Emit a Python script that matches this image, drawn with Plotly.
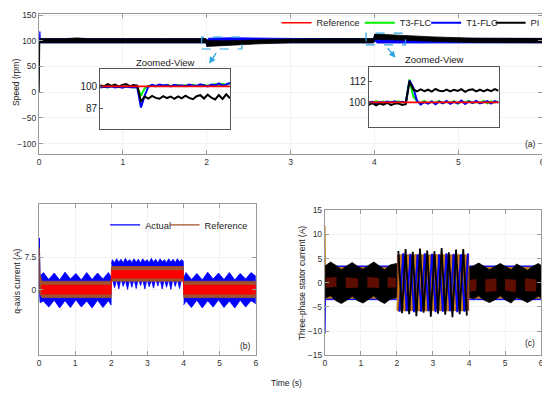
import numpy as np
import plotly.graph_objects as go

W, H = 550, 395
OFFX, OFFY = 8, 8  # page body margin of the html page
FONT = "Liberation Sans, Arial, Helvetica, sans-serif"

# ================= (a) rotor speed =================
TIME_TICKS = [0, 1, 2, 3, 4, 5, 6]
SPEED_TICKS = [-100, -50, 0, 50, 100, 150]

REF_T = [0, 6]
REF_SPEED = [100, 100]

# envelopes of the dense speed traces in the main view
T3_BAND_T = [0.004, 0.03, 1.99, 2.005, 2.02, 3.99, 4.005, 4.02, 6.0]
T3_BAND_UP = [100, 103.5, 103.5, 100, 104, 104, 113, 104, 104]
T3_BAND_LO = [96.5, 96.5, 96.5, 94, 96.5, 96.5, 101, 96.5, 96.5]

T1_BAND_T = [0.004, 0.01, 0.016, 0.03, 1.99, 2.005, 2.02, 2.3, 2.6, 3.0, 3.99, 4.005, 4.03, 4.3, 4.7, 6.0]
T1_BAND_UP = [100, 118, 104, 104, 104, 100, 105, 106, 105, 104.5, 104, 113, 105, 105, 104.5, 104.5]
T1_BAND_LO = [96, 97, 96, 96, 96, 88, 94, 95.5, 96, 96, 96, 100, 95.5, 95.5, 96, 96]

PI_BAND_T = [0.0, 0.004, 0.01, 0.3, 0.45, 0.6, 1.0, 1.5, 1.99, 2.005, 2.3, 2.6, 3.0, 3.5, 3.99, 4.005, 4.3, 4.7, 5.2, 6.0]
PI_BAND_UP = [0, 104, 104, 104, 105.5, 104, 104.5, 104, 104, 100, 100, 102, 103.5, 104, 104, 113, 110.5, 107.5, 105, 104.5]
PI_BAND_LO = [0, 96, 96, 96.5, 97, 96, 96.5, 96, 96, 89, 91, 94, 96, 96, 96, 103, 102, 99, 96.5, 96]

# zoomed views (sampled every 10 ms)
INSET1_T = np.round(np.linspace(1.90, 2.25, 36), 3)
INSET1_T3 = [99.6, 100.0, 99.4, 99.9, 99.7, 99.5, 100.0, 99.6, 99.8, 99.4, 99.6, 94.5, 98.8, 100.3,
             100.6, 100.0, 100.8, 100.3, 100.9, 100.2, 100.6, 100.8, 100.1, 100.7, 100.4, 100.9,
             100.2, 100.8, 101.0, 100.3, 100.9, 101.2, 100.5, 101.5, 100.8, 101.9]
INSET1_T1 = [99.3, 99.8, 99.5, 100.1, 99.4, 99.7, 99.2, 99.9, 99.5, 99.6, 99.4, 87.5, 94.5, 99.8,
             100.9, 100.2, 101.1, 100.5, 100.8, 100.0, 100.9, 100.4, 100.7, 100.1, 101.0, 100.5,
             100.3, 101.2, 100.6, 100.0, 101.0, 100.6, 101.8, 100.4, 101.1, 102.0]
INSET1_PI = [100.7, 99.9, 101.3, 100.2, 101.0, 99.8, 100.9, 101.4, 100.1, 100.8, 100.4, 91.0,
             94.0, 92.8, 94.4, 93.2, 92.7, 94.2, 93.1, 94.0, 92.6, 94.1, 92.9, 94.5, 93.2, 92.4,
             94.2, 94.8, 92.8, 95.1, 93.3, 92.3, 94.9, 92.6, 95.3, 93.0]
INSET1_TICKS = [87, 100]

INSET2_T = np.round(np.linspace(3.90, 4.25, 36), 3)
INSET2_T3 = [100.3, 99.8, 100.6, 100.0, 100.5, 99.7, 100.4, 100.1, 100.6, 99.9, 100.2, 113.0, 103.5,
             100.8, 99.6, 100.8, 99.4, 100.5, 99.7, 100.9, 99.5, 100.3, 99.8, 100.7, 99.3, 100.6,
             100.0, 100.9, 99.6, 100.4, 99.7, 100.8, 99.5, 100.6, 99.9, 100.5]
INSET2_T1 = [99.9, 100.4, 99.6, 100.2, 99.8, 100.5, 100.0, 100.6, 99.7, 100.3, 100.0, 112.5, 108.5,
             101.0, 98.8, 100.2, 99.3, 100.6, 99.0, 100.4, 99.6, 100.8, 99.2, 100.3, 99.5, 101.0,
             99.1, 100.5, 99.7, 100.9, 99.4, 100.2, 100.8, 99.3, 100.7, 99.9]
INSET2_PI = [98.6, 99.6, 98.3, 99.4, 98.7, 99.8, 98.4, 99.3, 99.5, 98.5, 99.0, 112.0, 107.5,
             106.3, 107.4, 106.4, 107.2, 106.1, 107.6, 106.6, 106.3, 107.3, 106.2, 107.2, 106.5,
             107.5, 106.0, 107.1, 107.4, 106.3, 107.2, 106.2, 107.3, 106.4, 107.5, 106.6]
INSET2_TICKS = [100, 112]

# ================= (b) q-axis current =================
Q_TICKS = [0, 7.5]
Q_TICKTEXT = ["0", "7.5"]

QA_T = [0.0, 0.006, 0.03, 0.12, 0.27, 0.42, 0.57, 0.72, 0.87, 1.02, 1.17, 1.32, 1.47, 1.62, 1.77, 1.92, 1.995]
QA_UP = [0.0, 12.0, 3.2, 4.0, 2.4, 3.9, 2.3, 4.1, 2.5, 3.8, 2.3, 4.0, 2.4, 3.9, 2.5, 4.0, 3.0]
QA_LO = [0.0, 0.5, -3.0, -2.6, -4.0, -2.4, -4.2, -2.5, -4.1, -2.3, -4.0, -2.6, -4.2, -2.4, -4.1, -2.5, -3.5]

QB_T = [2.005] + list(np.round(2.03 + 0.06 * np.arange(33), 3)) + [3.995]
QB_UP = [6.0, 7.0, 6.3, 7.2, 6.4, 7.1, 6.2, 7.3, 6.5, 7.0, 6.3, 7.2, 6.4, 7.1, 6.2, 7.2, 6.5, 7.0,
         6.3, 7.3, 6.4, 7.1, 6.2, 7.2, 6.5, 7.0, 6.3, 7.2, 6.4, 7.1, 6.3, 7.2, 6.5, 7.0, 6.6]
QB_LO = [2.0, 2.6, 0.5, 2.4, 0.2, 2.7, 0.8, 2.3, 0.1, 2.6, 0.6, 2.5, 0.3, 2.7, 1.0, 2.4, 0.2, 2.6,
         0.7, 2.3, 0.4, 2.7, 0.9, 2.5, 0.2, 2.6, 0.6, 2.4, 0.1, 2.7, 0.8, 2.5, 0.3, 2.6, 2.2]

QC_T = [4.005, 4.07, 4.22, 4.37, 4.52, 4.67, 4.82, 4.97, 5.12, 5.27, 5.42, 5.57, 5.72, 5.87, 6.0]
QC_UP = [2.8, 4.0, 2.4, 3.8, 2.3, 4.1, 2.5, 3.9, 2.4, 4.0, 2.3, 3.8, 2.5, 4.0, 3.2]
QC_LO = [-3.5, -2.6, -4.1, -2.4, -4.2, -2.5, -4.0, -2.3, -4.1, -2.6, -4.2, -2.4, -4.0, -2.5, -3.2]

Q_BRN_T = [0.0, 0.004, 0.03, 0.08, 1.995, 2.005, 3.995, 4.005, 6.0]
Q_BRN_UP = [0.0, 9.8, 3.5, 2.0, 2.0, 5.4, 5.4, 2.0, 2.0]
Q_BRN_LO = [0.0, 0.0, -1.0, -1.8, -1.8, 2.0, 2.0, -1.8, -1.8]

Q_RED_T = [0.06, 1.995, 2.005, 3.995, 4.005, 6.0]
Q_RED_UP = [1.1, 1.1, 4.5, 4.5, 1.1, 1.1]
Q_RED_LO = [-1.0, -1.0, 2.7, 2.7, -1.0, -1.0]

# ================= (c) three-phase stator current =================
I_TICKS = [-15, -10, -5, 0, 5, 10, 15]

IA_BLUE_T = [0.0, 0.004, 0.02, 1.995]
IA_BLUE_UP = [0.0, 0.0, 3.5, 3.5]
IA_BLUE_LO = [0.0, -10.5, -3.5, -3.5]
IC_BLUE_T = [4.005, 6.0]
IC_BLUE_UP = [3.5, 3.5]
IC_BLUE_LO = [-3.5, -3.5]

IA_ORG_T = [0.0, 0.004, 0.02, 1.995]
IA_ORG_UP = [0.0, 11.8, 3.2, 3.2]
IA_ORG_LO = [0.0, 0.0, -3.2, -3.2]
IC_ORG_T = [4.005, 6.0]
IC_ORG_UP = [3.2, 3.2]
IC_ORG_LO = [-3.2, -3.2]

IA_BLK_T = [0.01, 0.16, 0.31, 0.46, 0.61, 0.76, 0.91, 1.06, 1.21, 1.36, 1.51, 1.66, 1.81, 1.99]
IA_BLK_UP = [3.5, 4.3, 3.6, 2.7, 3.5, 4.2, 3.4, 2.8, 3.6, 4.3, 3.5, 2.7, 3.7, 4.0]
IA_BLK_LO = [-3.2, -2.7, -3.7, -4.3, -3.6, -2.8, -3.7, -4.2, -3.5, -2.7, -3.7, -4.3, -3.4, -3.0]

IC_BLK_T = [4.01, 4.12, 4.27, 4.42, 4.57, 4.72, 4.87, 5.02, 5.17, 5.32, 5.47, 5.62, 5.77, 5.92, 6.0]
IC_BLK_UP = [3.2, 3.5, 4.1, 3.4, 2.7, 3.4, 4.0, 3.3, 2.7, 3.9, 3.3, 2.6, 3.4, 4.0, 3.6]
IC_BLK_LO = [-3.0, -3.3, -2.7, -3.6, -4.1, -3.5, -2.7, -3.6, -4.2, -3.0, -3.5, -4.1, -3.5, -2.8, -3.1]

# dark-red patches in the middle of the steady-state band
ID_RED_T = [0.04, 0.32, None, 0.58, 0.92, None, 1.18, 1.5, None, 1.74, 1.97, None,
            4.03, 4.2, None, 4.45, 4.76, None, 5.0, 5.3, None, 5.55, 5.86]
ID_RED_UP = [1.0, 1.2, None, 1.1, 0.9, None, 1.2, 1.0, None, 1.1, 1.0, None,
             0.6, 0.8, None, 0.7, 0.9, None, 0.8, 0.6, None, 0.9, 0.7]
ID_RED_LO = [-1.0, -0.8, None, -1.1, -1.0, None, -0.9, -1.1, None, -1.0, -0.9, None,
             -1.8, -1.6, None, -1.9, -1.7, None, -1.6, -1.9, None, -1.7, -1.8]

IB_BG_T = [2.005, 3.995]
IB_BG_UP = [5.8, 5.8]
IB_BG_LO = [-5.8, -5.8]

# peaks / troughs of the three phases during the 2-4 s load interval
IB_BLK_T = np.round(2.04 + 0.1 * np.arange(20), 3)
IB_BLK = [6.6, -6.3, 7.0, -6.5, 6.4, -6.9, 7.1, -6.2, 6.7, -7.0, 6.5, -6.4, 7.2, -6.6, 6.3, -7.1, 6.9, -6.5, 7.0, -6.8]
IB_ORG_T = np.round(2.007 + 0.1 * np.arange(20), 3)
IB_ORG = [-5.7, 5.8, -5.9, 5.7, -5.8, 5.9, -5.7, 5.8, -5.9, 5.7, -5.8, 5.9, -5.7, 5.8, -5.9, 5.7, -5.8, 5.9, -5.7, 5.8]
IB_BLUE_T = np.round(2.073 + 0.1 * np.arange(20), 3)
IB_BLUE = [-6.0, 6.1, -5.9, 6.0, -6.1, 5.9, -6.0, 6.1, -5.9, 6.0, -6.1, 5.9, -6.0, 6.1, -5.9, 6.0, -6.1, 5.9, -6.0, 6.1]

# ================= colours =================
RED = "#ff0000"
GREEN = "#00ee00"
BLUE = "#0000ff"
BLACK = "#000000"
BROWN = "#a0522d"
ORANGE = "#c8801e"
DARKRED = "#5e0e00"
CYAN = "#2aa7e0"


def band(ts, ups, los):
    """Closed polygon(s) for fill='toself'; None splits segments."""
    xs, ys = [], []
    segs_t, segs_u, segs_l = [[]], [[]], [[]]
    for t, u, l in zip(ts, ups, los):
        if t is None:
            segs_t.append([]); segs_u.append([]); segs_l.append([])
        else:
            segs_t[-1].append(t); segs_u[-1].append(u); segs_l[-1].append(l)
    for st, su, sl in zip(segs_t, segs_u, segs_l):
        if xs:
            xs.append(None); ys.append(None)
        xs += list(st) + list(st)[::-1]
        ys += list(su) + list(sl)[::-1]
    return xs, ys


fig = go.Figure()


def add_band(ts, ups, los, color, xa, ya, lw=0.8):
    x, y = band(ts, ups, los)
    fig.add_trace(go.Scatter(x=x, y=y, mode="lines", fill="toself", fillcolor=color,
                             line=dict(color=color, width=lw), xaxis=xa, yaxis=ya,
                             showlegend=False, hoverinfo="skip"))


# ---- (a) main view ----
fig.add_trace(go.Scatter(x=REF_T, y=REF_SPEED, mode="lines", line=dict(color=RED, width=1.5),
                         xaxis="x", yaxis="y", showlegend=False))
add_band(T3_BAND_T, T3_BAND_UP, T3_BAND_LO, GREEN, "x", "y")
add_band(T1_BAND_T, T1_BAND_UP, T1_BAND_LO, BLUE, "x", "y")
add_band(PI_BAND_T, PI_BAND_UP, PI_BAND_LO, BLACK, "x", "y")

# ---- (a) zoomed views ----
for xa, ya, tt, t3, t1, pi, show in [("x4", "y4", INSET1_T, INSET1_T3, INSET1_T1, INSET1_PI, True),
                                     ("x5", "y5", INSET2_T, INSET2_T3, INSET2_T1, INSET2_PI, False)]:
    fig.add_trace(go.Scatter(x=tt, y=t3, mode="lines", name="T3-FLC", legend="legend3",
                             line=dict(color=GREEN, width=2), xaxis=xa, yaxis=ya, showlegend=show))
    fig.add_trace(go.Scatter(x=tt, y=t1, mode="lines", name="T1-FLC", legend="legend4",
                             line=dict(color=BLUE, width=2), xaxis=xa, yaxis=ya, showlegend=show))
    fig.add_trace(go.Scatter(x=tt, y=pi, mode="lines", name="PI", legend="legend5",
                             line=dict(color=BLACK, width=2), xaxis=xa, yaxis=ya, showlegend=show))
    fig.add_trace(go.Scatter(x=REF_T, y=REF_SPEED, mode="lines", name="Reference", legend="legend",
                             line=dict(color=RED, width=1.6), xaxis=xa, yaxis=ya, showlegend=show))

# ---- (b) q-axis current ----
add_band(QA_T + [None] + QB_T + [None] + QC_T,
         QA_UP + [None] + QB_UP + [None] + QC_UP,
         QA_LO + [None] + QB_LO + [None] + QC_LO, BLUE, "x2", "y2")
add_band(Q_BRN_T, Q_BRN_UP, Q_BRN_LO, BROWN, "x2", "y2")
add_band(Q_RED_T, Q_RED_UP, Q_RED_LO, RED, "x2", "y2", lw=0.5)
fig.add_trace(go.Scatter(x=QA_T[:2], y=QA_UP[:2], mode="lines", name="Actual",
                         line=dict(color=BLUE, width=1.2), xaxis="x2", yaxis="y2", legend="legend2"))
fig.add_trace(go.Scatter(x=Q_BRN_T[:2], y=Q_BRN_UP[:2], mode="lines", name="Reference",
                         line=dict(color=BROWN, width=1.2), xaxis="x2", yaxis="y2", legend="legend6"))

# ---- (c) three-phase currents ----
add_band(IA_BLUE_T + [None] + IC_BLUE_T, IA_BLUE_UP + [None] + IC_BLUE_UP,
         IA_BLUE_LO + [None] + IC_BLUE_LO, BLUE, "x3", "y3")
add_band(IA_ORG_T + [None] + IC_ORG_T, IA_ORG_UP + [None] + IC_ORG_UP,
         IA_ORG_LO + [None] + IC_ORG_LO, ORANGE, "x3", "y3")
add_band(IA_BLK_T + [None] + IC_BLK_T, IA_BLK_UP + [None] + IC_BLK_UP,
         IA_BLK_LO + [None] + IC_BLK_LO, BLACK, "x3", "y3")
add_band(ID_RED_T, ID_RED_UP, ID_RED_LO, DARKRED, "x3", "y3", lw=0.3)
add_band(IB_BG_T, IB_BG_UP, IB_BG_LO, "#7a2e12", "x3", "y3", lw=0.3)
fig.add_trace(go.Scatter(x=IB_ORG_T, y=IB_ORG, mode="lines", line=dict(color=ORANGE, width=1.8),
                         xaxis="x3", yaxis="y3", showlegend=False))
fig.add_trace(go.Scatter(x=IB_BLUE_T, y=IB_BLUE, mode="lines", line=dict(color=BLUE, width=1.8),
                         xaxis="x3", yaxis="y3", showlegend=False))
fig.add_trace(go.Scatter(x=IB_BLK_T, y=IB_BLK, mode="lines", line=dict(color=BLACK, width=1.8),
                         xaxis="x3", yaxis="y3", showlegend=False))


def dx(p):
    return (p - OFFX) / W


def dy(p):
    return min(1.0, max(0.0, 1 - (p - OFFY) / H))


AX = dict(showline=True, linecolor="#9a9a9a", linewidth=1, mirror="allticks", ticks="inside",
          ticklen=4, tickcolor="#9a9a9a", showgrid=True, gridcolor="#f2f2f2", zeroline=False,
          tickfont=dict(family=FONT, size=8.5, color="#333"))
INS = dict(showline=True, linecolor="#555", linewidth=1, mirror=True, ticks="inside",
           ticklen=3, tickcolor="#555", showgrid=False, zeroline=False,
           tickfont=dict(family=FONT, size=10, color="#222"))


def leg(line_start, yc):
    return dict(orientation="h", x=dx(line_start - 6), xanchor="left", y=dy(yc), yanchor="middle",
                bgcolor="rgba(0,0,0,0)", font=dict(family=FONT, size=9.3, color="#222"),
                itemwidth=30)


fig.update_layout(
    width=W, height=H, autosize=False,
    margin=dict(l=0, r=0, t=0, b=0),
    paper_bgcolor="white", plot_bgcolor="white",
    font=dict(family=FONT, color="#222"),
    xaxis=dict(AX, domain=[dx(37.3), dx(545)], range=[0, 6], tickvals=TIME_TICKS, anchor="y"),
    yaxis=dict(AX, domain=[dy(152), dy(8)], range=[-120, 152], tickvals=SPEED_TICKS, anchor="x"),
    xaxis2=dict(AX, domain=[dx(37.3), dx(256)], range=[0, 6], tickvals=TIME_TICKS, anchor="y2"),
    yaxis2=dict(AX, domain=[dy(358.3), dy(203)], range=[-15, 20], tickvals=Q_TICKS,
                ticktext=Q_TICKTEXT, anchor="x2"),
    xaxis3=dict(AX, domain=[dx(325.7), dx(544)], range=[0, 6], tickvals=TIME_TICKS, anchor="y3"),
    yaxis3=dict(AX, domain=[dy(359), dy(210)], range=[-15, 15], tickvals=I_TICKS, anchor="x3"),
    xaxis4=dict(INS, domain=[dx(99), dx(230)], range=[1.9, 2.25], showticklabels=False,
                tickvals=[], anchor="y4"),
    yaxis4=dict(INS, domain=[dy(126), dy(65)], range=[75, 110], tickvals=INSET1_TICKS, anchor="x4"),
    xaxis5=dict(INS, domain=[dx(370), dx(501)], range=[3.9, 4.25], showticklabels=False,
                tickvals=[], anchor="y5"),
    yaxis5=dict(INS, domain=[dy(124.3), dy(62.7)], range=[86, 120], tickvals=INSET2_TICKS, anchor="x5"),
    legend=leg(283, 17),
    legend3=leg(367, 17),
    legend4=leg(434, 17),
    legend5=leg(499, 17),
    legend2=leg(110, 225),
    legend6=leg(170, 225),
    showlegend=True,
)

# dashed zoom boxes
fig.add_shape(type="rect", xref="x", yref="y", x0=1.94, x1=2.42, y0=84, y1=107,
              line=dict(color=CYAN, width=1.2, dash="dash"))
fig.add_shape(type="rect", xref="x", yref="y", x0=3.9, x1=4.37, y0=92, y1=115,
              line=dict(color=CYAN, width=1.2, dash="dash"))

ann = []
ann.append(dict(x=dx(209), y=dy(59), xref="paper", yref="paper", ax=8, ay=-12, text="",
                showarrow=True, arrowhead=2, arrowsize=1, arrowwidth=1.3, arrowcolor=CYAN))
ann.append(dict(x=dx(397), y=dy(53), xref="paper", yref="paper", ax=-9, ay=-11, text="",
                showarrow=True, arrowhead=2, arrowsize=1, arrowwidth=1.3, arrowcolor=CYAN))
for txt, x, y, size, ang in [("Zoomed-View", 165, 58, 9.5, 0), ("Zoomed-View", 436, 55, 9.5, 0),
                             ("(a)", 533, 142, 8.5, 0), ("(b)", 246, 349, 8.5, 0),
                             ("(c)", 533, 346, 8.5, 0), ("Time (s)", 287, 388, 8.5, 0),
                             ("Speed (rpm)", 14, 78, 8.5, -90),
                             ("q-axis current (A)", 15.5, 283, 8.5, -90),
                             ("Three-phase stator current (A)", 302, 284.5, 8.5, -90)]:
    ann.append(dict(x=dx(x), y=dy(y), xref="paper", yref="paper", text=txt, showarrow=False,
                    textangle=ang, xanchor="center", yanchor="middle",
                    font=dict(family=FONT, size=size, color="#222")))
fig.update_layout(annotations=ann)

fig.write_html("out.html")
